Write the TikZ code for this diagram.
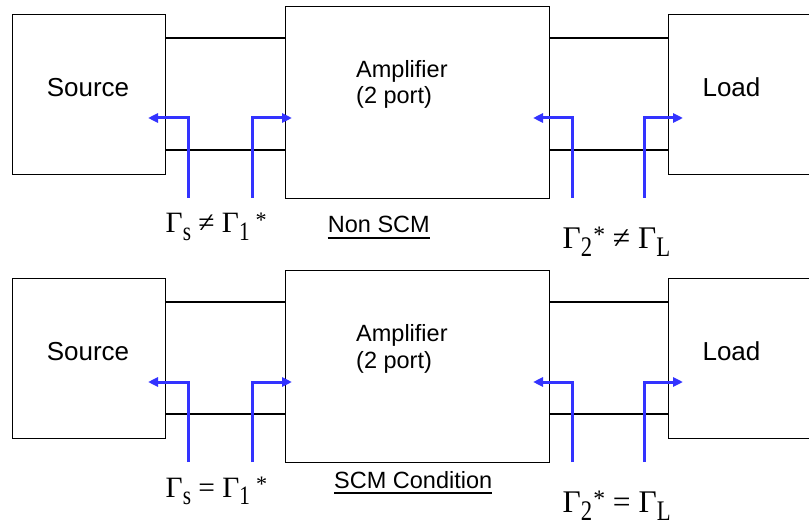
\documentclass[tikz,border=0pt]{standalone}
\usepackage{fontspec}
\usepackage{graphicx}
\setmainfont{Liberation Sans}
\newfontfamily\tms{Liberation Serif}
\usetikzlibrary{arrows.meta}
\definecolor{rfblue}{RGB}{51,51,255}
\newcommand\gsub[1]{\raisebox{-0.27em}{\scalebox{1}[1.25]{\fontsize{0.72em}{0.72em}\selectfont #1}}}
\newcommand\gsup[1]{\raisebox{0.17em}{\fontsize{0.75em}{0.75em}\selectfont #1}}
\tikzset{
  box/.style={draw=black, line width=1.3pt, fill=white, inner sep=0pt, anchor=north west},
  wire/.style={draw=black, line width=2pt},
  sig/.style={draw=rfblue, line width=3pt, -{Triangle[length=10pt,width=9pt]}},
  btext/.style={inner sep=0pt, anchor=base, font=\fontsize{26pt}{26pt}\selectfont},
  atext/.style={inner sep=0pt, anchor=base west, font=\fontsize{23.5pt}{23.5pt}\selectfont},
  glabl/.style={inner sep=0pt, anchor=base west, font=\tms\fontsize{29.5pt}{29.5pt}\selectfont},
  glabr/.style={inner sep=0pt, anchor=base west, font=\tms\fontsize{31.5pt}{31.5pt}\selectfont},
  captext/.style={inner sep=0pt, anchor=base west, font=\fontsize{23.5pt}{23.5pt}\selectfont},
  uline/.style={draw=black, line width=2pt},
}
% #1 prefix, #2 relation, #3 caption, #4 caption x, #5 caption baseline
\newcommand\drawpanel[5]{%
  \node[box, minimum width=153pt, minimum height=160pt] (#1src) at (12,14) {};
  \node[box, minimum width=264pt, minimum height=192pt] (#1amp) at (285,6) {};
  \node[box, minimum width=180pt, minimum height=160pt] (#1load) at (668,14) {};
  \node[btext] (#1srct) at (88,96.7) {Source};
  \node[btext] (#1loadt) at (731.5,96.7) {Load};
  \node[atext] (#1ampa) at (356,77.3) {Amplifier};
  \node[atext] (#1ampb) at (356,104) {(2 port)};
  % wires
  \draw[wire] (#1src.east |- 0,38) -- (#1amp.west |- 0,38);
  \draw[wire] (#1src.east |- 0,150) -- (#1amp.west |- 0,150);
  \draw[wire] (#1amp.east |- 0,38) -- (#1load.west |- 0,38);
  \draw[wire] (#1amp.east |- 0,150) -- (#1load.west |- 0,150);
  % reflection arrows
  \coordinate (#1s1) at (188,198);  \coordinate (#1t1) at (148,118);
  \coordinate (#1s2) at (252,198);  \coordinate (#1t2) at (292,118);
  \coordinate (#1s3) at (572.7,198); \coordinate (#1t3) at (533,118);
  \coordinate (#1s4) at (644,198);  \coordinate (#1t4) at (683,118);
  \draw[sig] (#1s1) |- (#1t1);
  \draw[sig] (#1s2) |- (#1t2);
  \draw[sig] (#1s3) |- (#1t3);
  \draw[sig] (#1s4) |- (#1t4);
  % labels
  \node[glabl] (#1gl) at (165.5,233) {Γ\gsub{s} #2 Γ\gsub{1}\hspace{6pt}\gsup{*}};
  \node[glabr] (#1gr) at (562.5,248) {Γ\gsub{2}\hspace{1pt}\gsup{*} #2 Γ\gsub{L}};
  \node[captext] (#1cap) at (#4,#5) {#3};
  \draw[uline] ([yshift=-5pt]#1cap.base west) -- ([yshift=-5pt]#1cap.base east);
}
\begin{document}
\begin{tikzpicture}[x=1pt, y=-1pt]
  \useasboundingbox (0,0) rectangle (809,524);
  \fill[white] (0,0) rectangle (809,524);
  \clip (0,0) rectangle (809,524);
  \drawpanel{t}{≠}{Non SCM}{327.7}{232.5}
  \begin{scope}[shift={(0,264)}]
    \drawpanel{b}{=}{SCM Condition}{334}{224}
  \end{scope}
\end{tikzpicture}
\end{document}
